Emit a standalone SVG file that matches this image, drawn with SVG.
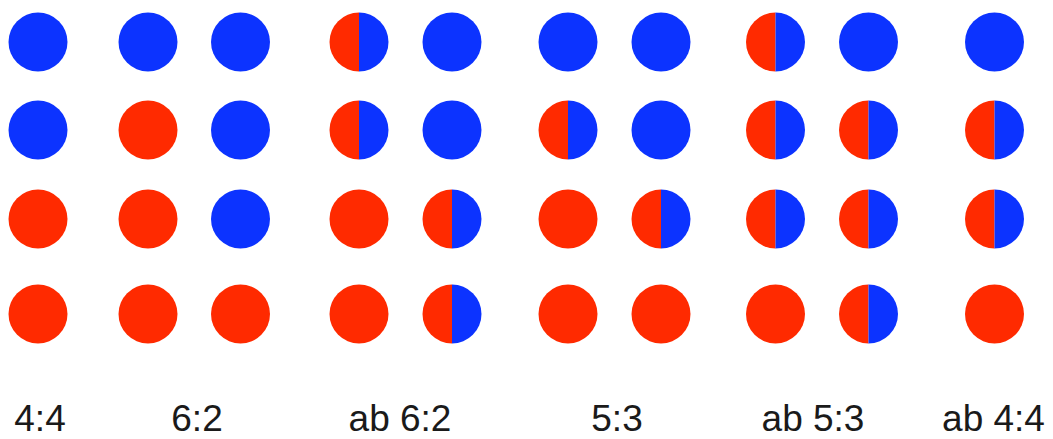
<svg xmlns="http://www.w3.org/2000/svg" width="1053" height="439" viewBox="0 0 1053 439">
<style>
.b{fill:#0c33ff}
.r{fill:#ff2a00}
.t{font-family:"Liberation Sans",Arial,sans-serif;font-size:37px;fill:#1a1a1a;text-anchor:middle}
</style>
<defs>
<circle id="c" r="29.5"/>
<g id="h">
<path d="M0,-29.5 A29.5,29.5 0 0 0 0,29.5 Z" class="r"/>
<path d="M0,-29.5 A29.5,29.5 0 0 1 0,29.5 Z" class="b"/>
</g>
</defs>
<rect width="1053" height="439" fill="#fff"/>
<g id="col-4-4">
<use href="#c" x="38" y="42" class="b"/>
<use href="#c" x="38" y="130" class="b"/>
<use href="#c" x="38" y="219" class="r"/>
<use href="#c" x="38" y="314" class="r"/>
<text class="t" x="40" y="431">4:4</text>
</g>
<g id="col-6-2">
<use href="#c" x="148" y="42" class="b"/>
<use href="#c" x="148" y="130" class="r"/>
<use href="#c" x="148" y="219" class="r"/>
<use href="#c" x="148" y="314" class="r"/>
<use href="#c" x="240.5" y="42" class="b"/>
<use href="#c" x="240.5" y="130" class="b"/>
<use href="#c" x="240.5" y="219" class="b"/>
<use href="#c" x="240.5" y="314" class="r"/>
<text class="t" x="197" y="431">6:2</text>
</g>
<g id="col-ab-6-2">
<use href="#h" x="359" y="42"/>
<use href="#h" x="359" y="130"/>
<use href="#c" x="359" y="219" class="r"/>
<use href="#c" x="359" y="314" class="r"/>
<use href="#c" x="452" y="42" class="b"/>
<use href="#c" x="452" y="130" class="b"/>
<use href="#h" x="452" y="219"/>
<use href="#h" x="452" y="314"/>
<text class="t" x="400" y="431">ab 6:2</text>
</g>
<g id="col-5-3">
<use href="#c" x="568" y="42" class="b"/>
<use href="#h" x="568" y="130"/>
<use href="#c" x="568" y="219" class="r"/>
<use href="#c" x="568" y="314" class="r"/>
<use href="#c" x="661" y="42" class="b"/>
<use href="#c" x="661" y="130" class="b"/>
<use href="#h" x="661" y="219"/>
<use href="#c" x="661" y="314" class="r"/>
<text class="t" x="617" y="431">5:3</text>
</g>
<g id="col-ab-5-3">
<use href="#h" x="775.5" y="42"/>
<use href="#h" x="775.5" y="130"/>
<use href="#h" x="775.5" y="219"/>
<use href="#c" x="775.5" y="314" class="r"/>
<use href="#c" x="868.5" y="42" class="b"/>
<use href="#h" x="868.5" y="130"/>
<use href="#h" x="868.5" y="219"/>
<use href="#h" x="868.5" y="314"/>
<text class="t" x="813" y="431">ab 5:3</text>
</g>
<g id="col-ab-4-4">
<use href="#c" x="994.5" y="42" class="b"/>
<use href="#h" x="994.5" y="130"/>
<use href="#h" x="994.5" y="219"/>
<use href="#c" x="994.5" y="314" class="r"/>
<text class="t" x="993.5" y="431">ab 4:4</text>
</g>
<g id="connectors"/>
</svg>
